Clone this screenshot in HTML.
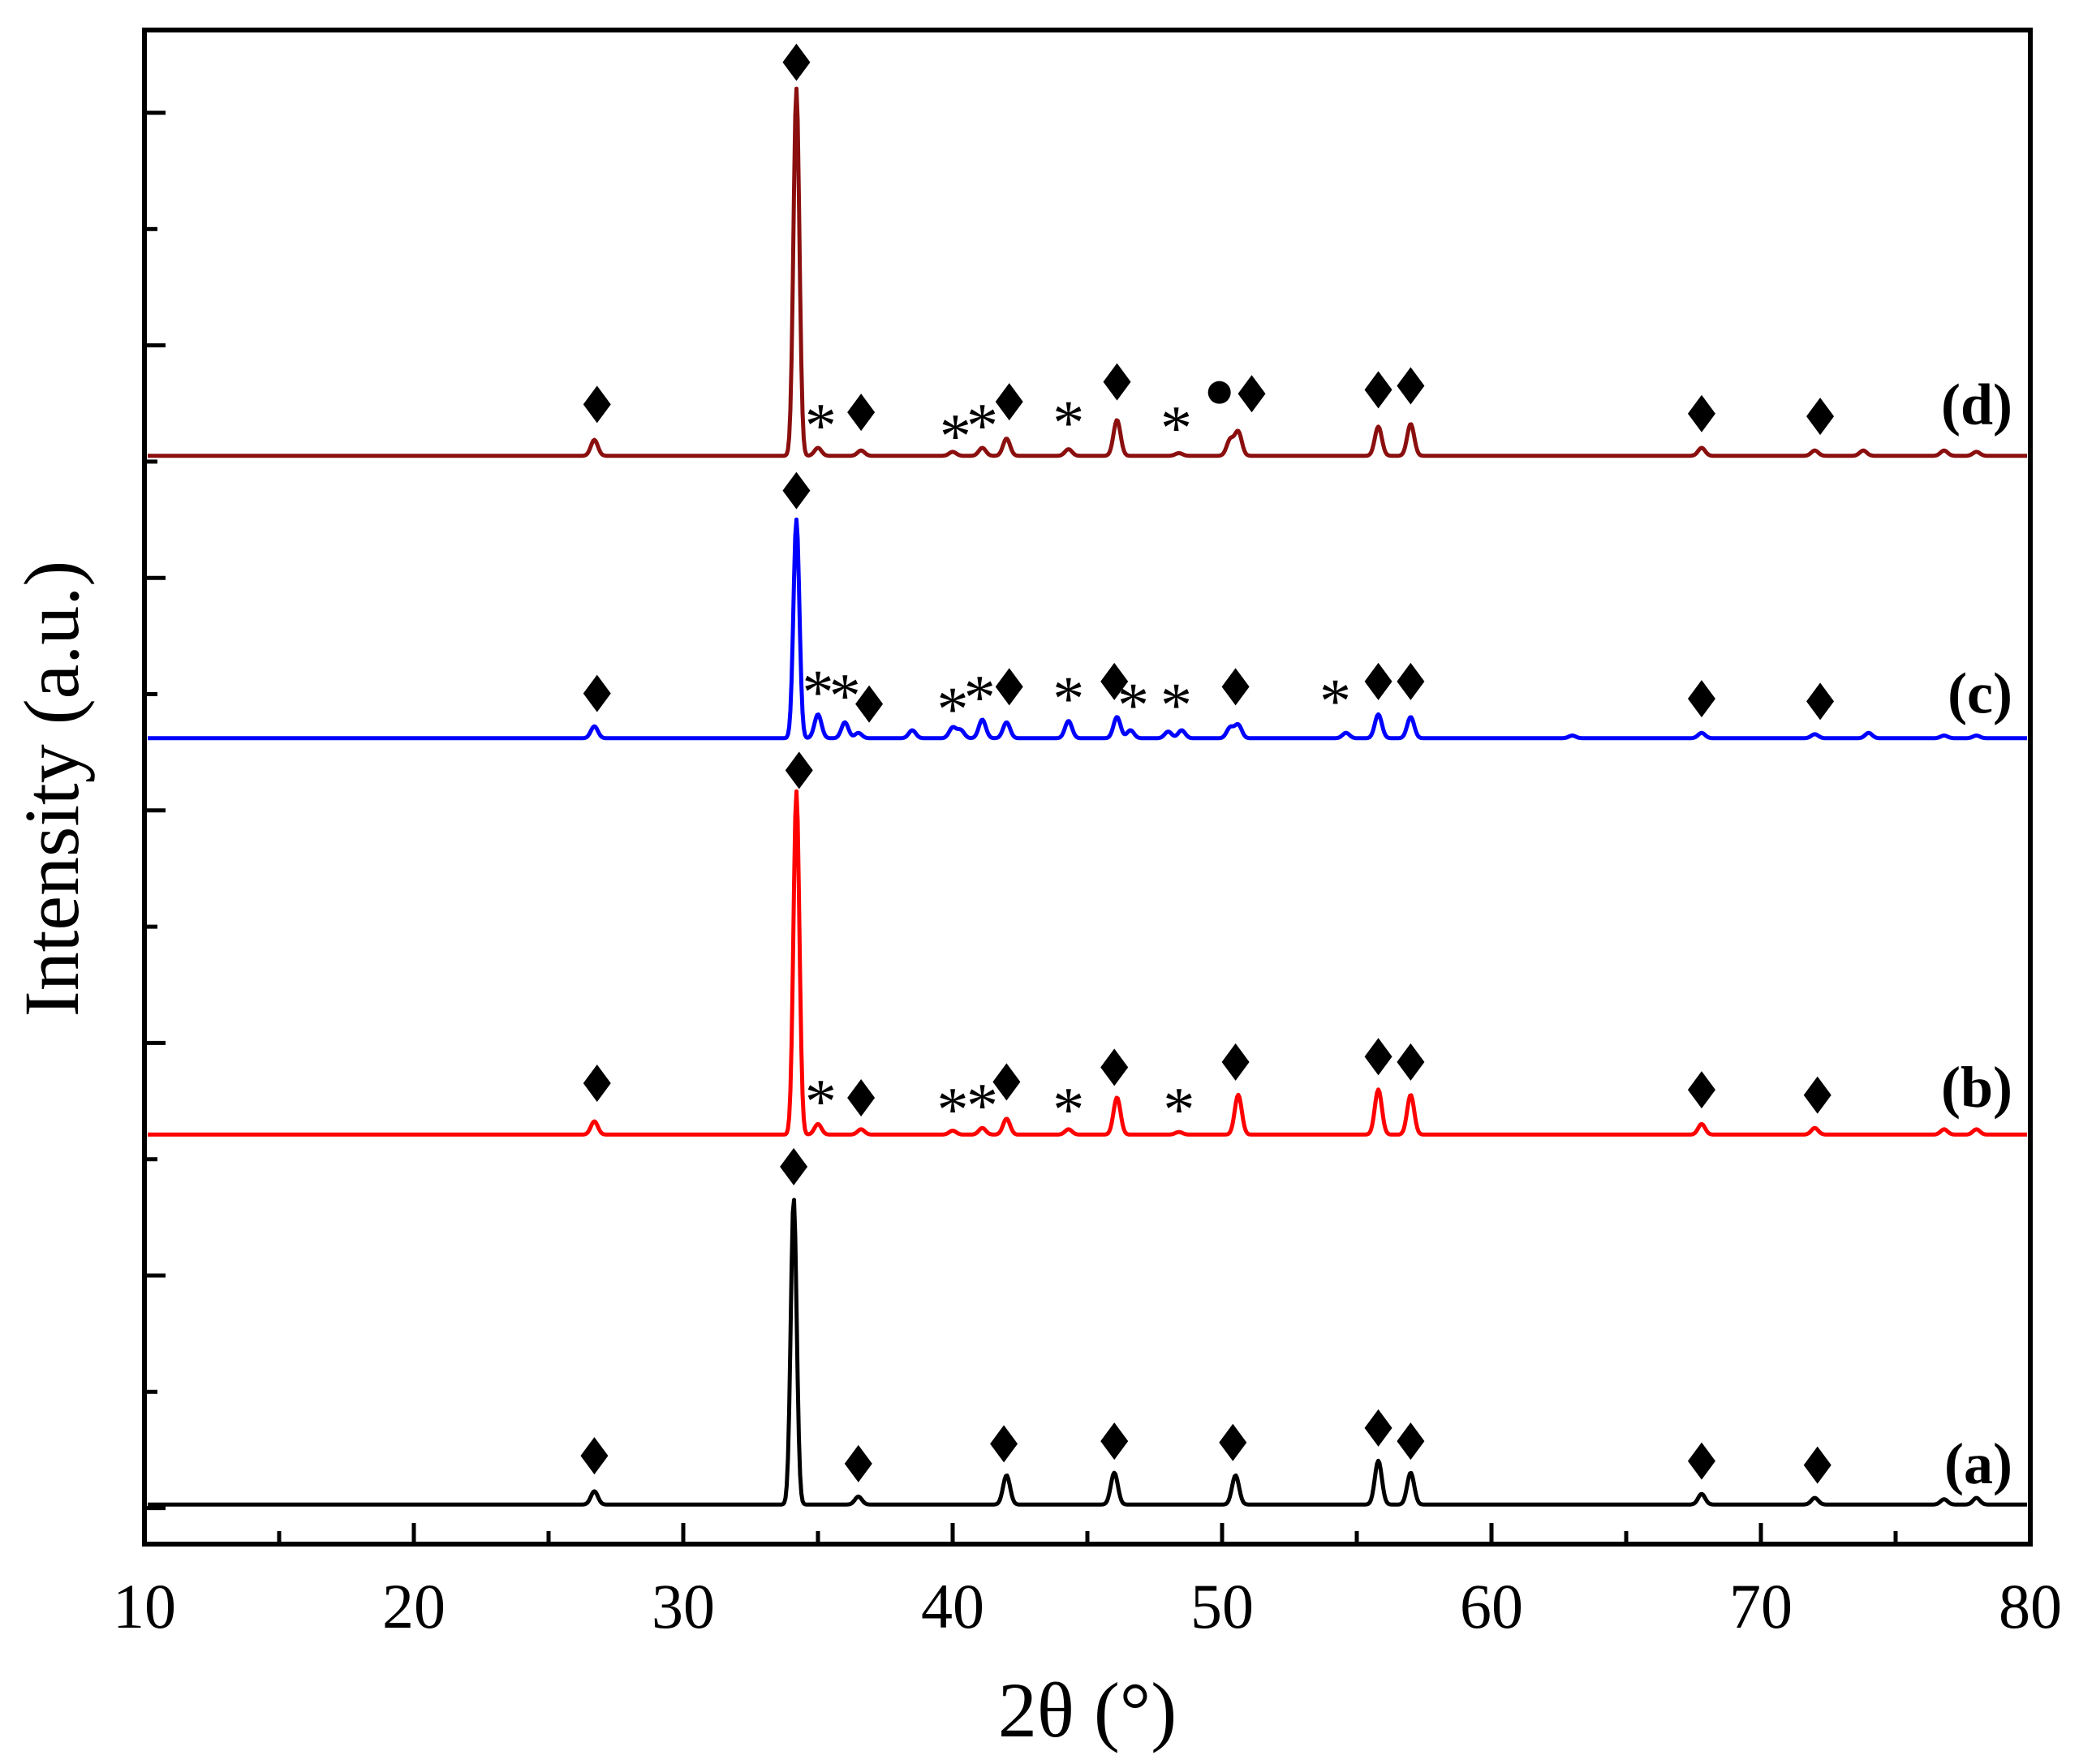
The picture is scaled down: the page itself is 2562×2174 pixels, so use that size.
<!DOCTYPE html>
<html><head><meta charset="utf-8"><style>
html,body{margin:0;padding:0;background:#fff;}
svg{display:block;}
text{font-family:"Liberation Serif",serif;}
</style></head><body>
<svg id="chart" width="2562" height="2174" viewBox="0 0 2562 2174" xmlns="http://www.w3.org/2000/svg">
<rect x="0" y="0" width="2562" height="2174" fill="#fff"/>
<g id="series"></g>
<g id="marks"></g>
<rect x="178" y="37" width="2324" height="1866" fill="none" stroke="#000" stroke-width="6"/>
<g id="axes"></g>
<text x="1340" y="2140" font-size="96" text-anchor="middle">2θ (°)</text>
<text x="0" y="0" font-size="96" text-anchor="middle" transform="translate(96,972) rotate(-90)">Intensity (a.u.)</text>
</svg>
<script>
// ---- data ----
const xTicks = [10,20,30,40,50,60,70,80];
const seriesNames = ['a','b','c','d'];
const seriesColors = ['#000000','#ff0000','#0000ff','#8b0f0f'];
const seriesOffsets = [1136,857,558,345];
const peaksA_pos = [26.7,34.1,36.5,42.0,46.0,50.5,55.8,57.0,67.8,72.0,76.8,78.0];
const peaksA_int = [10,231,6,22,24,22,33,24,8,5,4,5];
const peaksB_pos = [26.7,34.2,35.0,36.6,40.0,41.1,42.0,44.3,46.1,48.4,50.6,55.8,57.0,67.8,72.0,76.8,78.0];
const peaksB_int = [10,259,8,4,3,5,12,4,28,2,30,34,30,8,5,4,4];
const peaksC_pos = [26.7,34.2,35.0,36.0,36.5,38.5,40.0,40.3,41.1,42.0,44.3,46.1,46.6,48.0,48.5,50.3,50.6,54.6,55.8,57.0,63.0,67.8,72.0,74.0,76.8,78.0];
const peaksC_int = [9,165,18,12,4,6,8,6,14,12,13,16,6,5,6,8,10,4,18,16,2,4,3,4,2,2];
const peaksD_pos = [26.7,34.2,35.0,36.6,40.0,41.1,42.0,44.3,46.1,48.4,50.3,50.6,55.8,57.0,67.8,72.0,73.8,76.8,78.0];
const peaksD_int = [12,277,6,4,3,6,13,5,27,2,12,18,22,24,6,4,4,4,3];
const diamondX = [[26.7,34.1,36.5,41.9,46.0,50.4,55.8,57.0,67.8,72.1],[26.8,34.3,36.6,42.0,46.0,50.5,55.8,57.0,67.8,72.1],[26.8,34.2,36.9,42.1,46.0,50.5,55.8,57.0,67.8,72.2],[26.8,34.2,36.6,42.1,46.1,51.1,55.8,57.0,67.8,72.2]];
const diamondY = [[1098,880,1104,1089,1087,1088,1077,1087,1102,1105],[817,581,828,816,805,801,797,801,822,826],[523,370,531,518,514,518,514,514,527,529],[305,47,311,303,288,297,294,291,312,314]];
const starX = [[],[35.1,40.0,41.1,44.3,48.4],[35.0,36.0,40.0,41.0,44.3,46.7,48.3,54.2],[35.1,40.1,41.1,44.3,48.3]];
const starY = [[],[826,832,829,832,832],[517,520,530,521,522,527,527,524],[316,324,316,314,318]];
const circleX = [49.9];
const circleY = [296];
const labelY = [1104,820,523,305];
// ---- scales ----
const S = 1.634;
const X0=178, X1=2502;
function xs(v){return X0+(v-10)*(X1-X0)/70;}
function ys(off,val){return off*S - val*S - 2;}
const NS='http://www.w3.org/2000/svg';
function mk(tag,attrs,parent){const e=document.createElementNS(NS,tag);for(const k in attrs)e.setAttribute(k,attrs[k]);parent.appendChild(e);return e;}
const gS=document.getElementById('series'), gM=document.getElementById('marks'), gA=document.getElementById('axes');
const allPos=[peaksA_pos,peaksB_pos,peaksC_pos,peaksD_pos], allInt=[peaksA_int,peaksB_int,peaksC_int,peaksD_int];
for(let s=0;s<4;s++){
  let d='';
  for(let px=X0+4;px<=X1-3;px+=1.5){
    const v=10+(px-X0)*70/(X1-X0);
    let I=0;
    for(let k=0;k<allPos[s].length;k++){const w=allInt[s][k]>50?0.11:0.13;const t=(v-allPos[s][k])/w;I+=allInt[s][k]*Math.exp(-0.5*t*t);}
    d+=(d?'L':'M')+px.toFixed(1)+','+ys(seriesOffsets[s],I).toFixed(1);
  }
  const p=mk('path',{d:d,fill:'none',stroke:seriesColors[s],'stroke-width':5,'stroke-linejoin':'round'},gS);
  
  
  const lb=mk('text',{x:2480,y:labelY[s]*S+24,'font-size':72,'font-weight':'bold','text-anchor':'end'},gM);
  lb.textContent='('+seriesNames[s]+')';
  
  
  for(let k=0;k<diamondX[s].length;k++){
    const cx=xs(diamondX[s][k]), cy=diamondY[s][k]*S;
    const dm=mk('polygon',{points:`${cx},${cy-23} ${cx+17},${cy} ${cx},${cy+23} ${cx-17},${cy}`,fill:'#000'},gM);
    
    
  }
  for(let k=0;k<starX[s].length;k++){
    const st=mk('text',{x:xs(starX[s][k]),y:starY[s][k]*S+34,'font-size':78,'text-anchor':'middle'},gM);
    st.textContent='*';
    
    
  }
}
for(let k=0;k<circleX.length;k++){
  const c=mk('circle',{cx:xs(circleX[k]),cy:circleY[k]*S,r:14,fill:'#000'},gM);
  
  
}
// x ticks
for(let v=10;v<=80;v+=5){
  const major=v%10===0;
  const t=mk('line',{x1:xs(v),x2:xs(v),y1:1903,y2:1903-(major?26:16),stroke:'#000','stroke-width':5},gA);
  
  
}
for(const v of xTicks){
  const t=mk('text',{x:xs(v),y:2006,'font-size':78,'text-anchor':'middle'},gA);
  t.textContent=v;
  
  
}
// y ticks
for(let i=0;i<13;i++){
  const y=139+i*143.3;
  const major=i%2===0;
  const t=mk('line',{x1:178,x2:178+(major?26:16),y1:y,y2:y,stroke:'#000','stroke-width':5},gA);
  
  
}
</script>
</body></html>
